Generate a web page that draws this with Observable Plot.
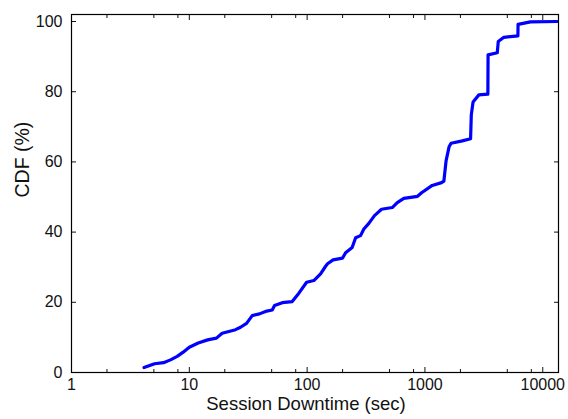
<!DOCTYPE html>
<html>
<head>
<meta charset="utf-8">
<script src="https://cdn.jsdelivr.net/npm/d3@7"></script>
<script src="https://cdn.jsdelivr.net/npm/@observablehq/plot@0.6"></script>
<style>
  body { margin: 0; background: #fff; }
  svg { display: block; }
</style>
</head>
<body>
<div id="chart"></div>
<script>
// Session downtime (seconds) and cumulative share of sessions (%)
const downtimeSec = [4.13, 5.07, 6.04, 6.92, 7.89, 8.87, 10.0, 11.9, 14.3, 17.0, 19.0, 24.7, 27.2, 30.6, 34.2, 39.4, 44.4, 50.6, 52.9, 61.5, 74.7, 85.1, 99, 114, 130, 143, 149, 166, 200, 212, 241, 258, 284, 303, 334, 373, 428, 528, 582, 662, 865, 936, 1153, 1384, 1447, 1511, 1602, 1667, 2075, 2440, 2474, 2561, 2868, 3420, 3434, 4110, 4190, 4675, 6150, 6170, 7870, 13270];
const cdfPct = [1.4, 2.5, 2.8, 3.6, 4.6, 5.8, 7.2, 8.4, 9.3, 9.8, 11.2, 12.2, 12.9, 14.0, 16.2, 16.7, 17.4, 17.8, 19.1, 19.9, 20.2, 22.6, 25.7, 26.2, 28.1, 30.2, 31.0, 32.1, 32.6, 34.1, 35.6, 38.4, 39.0, 40.9, 42.5, 44.7, 46.5, 47.0, 48.4, 49.6, 50.2, 51.2, 53.3, 54.1, 54.5, 60.3, 64.3, 65.3, 66.0, 66.6, 73.4, 77.1, 79.1, 79.3, 90.5, 91.1, 94.3, 95.5, 95.9, 99.2, 99.9, 100];

const majorTicksX = [1, 10, 100, 1000, 10000];
const minorTicksX = [2, 5, 8, 20, 50, 80, 200, 500, 800, 2000, 5000, 8000];
const ticksY = [0, 20, 40, 60, 80, 100];
const xTitle = "Session Downtime (sec)";
const yTitle = "CDF (%)";

const points = downtimeSec.map((x, i) => ({x, y: cdfPct[i]}));
const font = "'Liberation Sans', Arial, Helvetica, sans-serif";
const blank = () => "";

const chart = Plot.plot({
  width: 568,
  height: 419,
  marginLeft: 71,
  marginRight: 10,
  marginTop: 14,
  marginBottom: 47,
  style: {fontFamily: font, fontSize: "16px", background: "white", color: "#111"},
  x: {type: "log", domain: [1, 13600]},
  y: {domain: [0, 102]},
  marks: [
    // inward ticks on all four sides
    Plot.axisX(majorTicksX, {anchor: "bottom", tickSize: -5, tickPadding: 11, tickFormat: d => String(d), label: null}),
    Plot.axisX(majorTicksX, {anchor: "top", tickSize: -5, tickFormat: blank, label: null}),
    Plot.axisX(minorTicksX, {anchor: "bottom", tickSize: -3, tickFormat: blank, label: null}),
    Plot.axisX(minorTicksX, {anchor: "top", tickSize: -3, tickFormat: blank, label: null}),
    Plot.axisY(ticksY, {anchor: "left", tickSize: -5, tickPadding: 14, label: null}),
    Plot.axisY(ticksY, {anchor: "right", tickSize: -5, tickFormat: blank, label: null}),
    Plot.line(points, {x: "x", y: "y", stroke: "#0000ff", strokeWidth: 3.2, strokeLinejoin: "round"}),
    Plot.frame({stroke: "black", strokeWidth: 1.2}),
    Plot.text([xTitle], {text: d => d, frameAnchor: "bottom", dy: 37, dx: -9, fontSize: 18.5}),
    Plot.text([yTitle], {text: d => d, frameAnchor: "left", rotate: -90, dx: -49, dy: 4, fontSize: 19.5})
  ]
});

document.getElementById("chart").appendChild(chart);
</script>
</body>
</html>
